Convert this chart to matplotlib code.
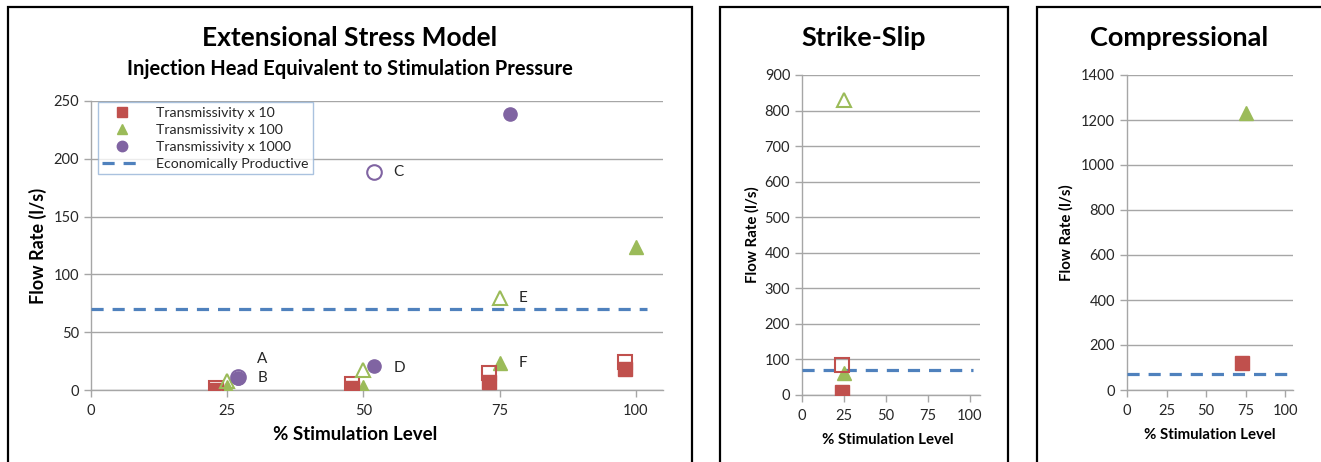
import matplotlib
matplotlib.use("Agg")
import matplotlib.pyplot as plt
from matplotlib.lines import Line2D
from matplotlib.patches import Rectangle

plt.rcParams['font.family'] = ['Lato', 'DejaVu Sans']

RED = '#C0504D'
GREEN = '#9BBB59'
PURPLE = '#8064A2'
BLUE = '#4F81BD'
GRID = '#A6A6A6'
TXT = '#262626'

# ---- Extensional stress model ----
ext_t10_x = [23, 48, 73, 98]
ext_t10_y = [0, 2, 7, 18]
ext_t10_open_x = [23, 48, 73, 98]
ext_t10_open_y = [2, 5, 15, 24]
ext_t100_x = [25, 50, 75, 100]
ext_t100_y = [3, 3, 23, 124]
ext_t100_open_x = [25, 50, 75]
ext_t100_open_y = [8, 17, 80]
ext_t1000_x = [27, 52, 77]
ext_t1000_y = [10, 21, 239]
ext_t1000_open_x = [27, 52]
ext_t1000_open_y = [11, 189]
point_labels = ['A', 'B', 'C', 'D', 'E', 'F']
point_label_x = [30.5, 30.5, 55.5, 55.5, 78.5, 78.5]
point_label_y = [27, 10, 189, 19, 80, 23]

# ---- Strike-slip ----
ss_t10_x = [24]
ss_t10_y = [8]
ss_t10_open_x = [24]
ss_t10_open_y = [84]
ss_t100_x = [25]
ss_t100_y = [62]
ss_t100_open_x = [25]
ss_t100_open_y = [830]

# ---- Compressional ----
cp_t10_x = [73]
cp_t10_y = [120]
cp_t100_x = [75]
cp_t100_y = [1231]

econ_x = [0, 102]
econ_y = [70, 70]

x_ticks = [0, 25, 50, 75, 100]

W, H = 1321, 462
fig = plt.figure(figsize=(W / 100, H / 100), dpi=100)


def px_axes(x0, x1, y_top, y_bot):
    return fig.add_axes([x0 / W, 1 - y_bot / H, (x1 - x0) / W, (y_bot - y_top) / H])


def style(ax, xmax, ymax, ystep, label_size):
    ax.set_xlim(0, xmax)
    ax.set_ylim(0, ymax)
    ax.set_xticks(x_ticks)
    ax.set_yticks(range(0, ymax + 1, ystep))
    for s in ['top', 'right']:
        ax.spines[s].set_visible(False)
    for s in ['left', 'bottom']:
        ax.spines[s].set_color(GRID)
        ax.spines[s].set_linewidth(1.0)
    ax.grid(axis='y', color=GRID, linewidth=1.0)
    ax.set_axisbelow(True)
    ax.tick_params(axis='both', colors=GRID, labelcolor=TXT, labelsize=10.5,
                   length=5, width=1.0, direction='out')
    ax.tick_params(axis='x', pad=5)
    ax.set_ylabel('Flow Rate (l/s)', fontsize=label_size, fontweight='bold', color='black')


def filled(ax, x, y, marker, color, ms=9.5):
    ax.plot(x, y, linestyle='none', marker=marker, markersize=ms,
            markerfacecolor=color, markeredgecolor=color, zorder=4)


def hollow(ax, x, y, marker, color, ms=10.5):
    ax.plot(x, y, linestyle='none', marker=marker, markersize=ms,
            markerfacecolor='none', markeredgecolor=color, markeredgewidth=1.5, zorder=5)


def econ(ax):
    ax.plot(econ_x, econ_y, color=BLUE, linewidth=2.3, dashes=(3.8, 2.8), zorder=3)


# panel frames
for x0, x1 in [(8, 692), (720, 1008), (1037, 1340)]:
    fig.add_artist(Rectangle((x0 / W, -0.1), (x1 - x0) / W, 1 - 7 / H + 0.1,
                             transform=fig.transFigure, fill=False,
                             edgecolor='black', linewidth=1.6))

# ---- panel 1 ----
ax1 = px_axes(91, 663, 101, 390)
style(ax1, 105, 250, 50, 13)
ax1.yaxis.set_label_coords(-0.077, 0.5)
econ(ax1)
filled(ax1, ext_t10_x, ext_t10_y, 's', RED)
hollow(ax1, ext_t10_open_x, ext_t10_open_y, 's', RED)
filled(ax1, ext_t100_x, ext_t100_y, '^', GREEN)
hollow(ax1, ext_t100_open_x, ext_t100_open_y, '^', GREEN)
filled(ax1, ext_t1000_x, ext_t1000_y, 'o', PURPLE)
hollow(ax1, ext_t1000_open_x, ext_t1000_open_y, 'o', PURPLE)
for t, lx, ly in zip(point_labels, point_label_x, point_label_y):
    ax1.text(lx, ly, t, fontsize=11, color=TXT, va='center', ha='left')

handles = [
    Line2D([], [], linestyle='none', marker='s', markersize=7.5, color=RED),
    Line2D([], [], linestyle='none', marker='^', markersize=7.5, color=GREEN),
    Line2D([], [], linestyle='none', marker='o', markersize=7.5, color=PURPLE),
    Line2D([], [], color=BLUE, linewidth=2.3, dashes=(3.8, 2.8)),
]
leg = ax1.legend(handles, ['Transmissivity x 10', 'Transmissivity x 100',
                           'Transmissivity x 1000', 'Economically Productive'],
                 loc='upper left', bbox_to_anchor=(0.012, 0.995), fontsize=10.2,
                 frameon=True, fancybox=False, borderpad=0.3, labelspacing=0.36,
                 handlelength=2.8, handletextpad=1.0, borderaxespad=0)
leg.get_frame().set_edgecolor('#95B3D7')
leg.get_frame().set_linewidth(1.0)
for t in leg.get_texts():
    t.set_color(TXT)

fig.text(350 / W, 1 - 38 / H, 'Extensional Stress Model', fontsize=19,
         fontweight='bold', ha='center', va='center')
fig.text(350 / W, 1 - 69 / H, 'Injection Head Equivalent to Stimulation Pressure',
         fontsize=14.5, fontweight='bold', ha='center', va='center')
fig.text(355 / W, 1 - 435 / H, '% Stimulation Level', fontsize=13.5,
         fontweight='bold', ha='center', va='center')

# ---- panel 2 ----
ax2 = px_axes(802, 980, 75, 395)
style(ax2, 106, 900, 100, 10.8)
ax2.yaxis.set_label_coords(-0.24, 0.5)
econ(ax2)
filled(ax2, ss_t10_x, ss_t10_y, 's', RED)
hollow(ax2, ss_t10_open_x, ss_t10_open_y, 's', RED)
filled(ax2, ss_t100_x, ss_t100_y, '^', GREEN)
hollow(ax2, ss_t100_open_x, ss_t100_open_y, '^', GREEN)
fig.text(864 / W, 1 - 38 / H, 'Strike-Slip', fontsize=19.5,
         fontweight='bold', ha='center', va='center')
fig.text(888 / W, 1 - 440 / H, '% Stimulation Level', fontsize=10.8,
         fontweight='bold', ha='center', va='center')

# ---- panel 3 ----
ax3 = px_axes(1127, 1293, 75, 390)
style(ax3, 105, 1400, 200, 10.8)
ax3.yaxis.set_label_coords(-0.32, 0.5)
econ(ax3)
filled(ax3, cp_t10_x, cp_t10_y, 's', RED)
filled(ax3, cp_t100_x, cp_t100_y, '^', GREEN)
fig.text(1179 / W, 1 - 38 / H, 'Compressional', fontsize=19.5,
         fontweight='bold', ha='center', va='center')
fig.text(1210 / W, 1 - 435 / H, '% Stimulation Level', fontsize=10.8,
         fontweight='bold', ha='center', va='center')

fig.savefig('out.png', dpi=100)
